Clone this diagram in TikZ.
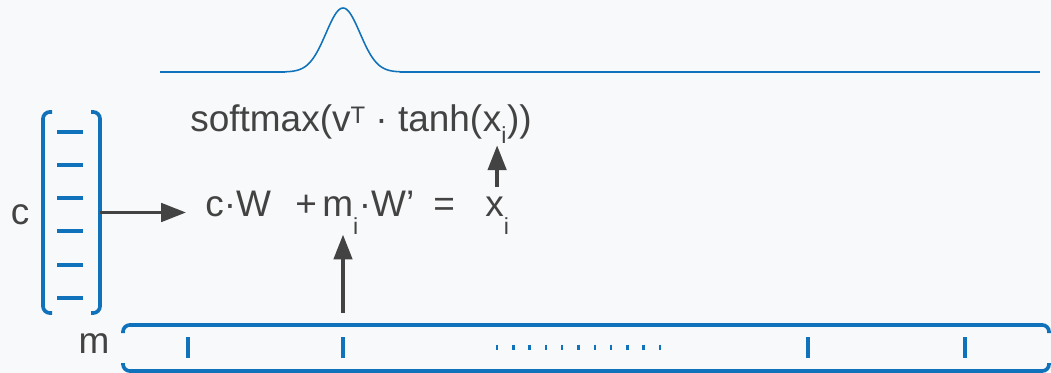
\documentclass[tikz,border=0pt]{standalone}
\usepackage{fontspec}
\setmainfont{Liberation Sans}
\definecolor{vecblue}{RGB}{16,114,186}
\definecolor{inkgray}{RGB}{67,67,67}
\definecolor{bggray}{RGB}{248,249,250}
\usetikzlibrary{positioning, arrows.meta, fit}
\newcommand{\dnsub}[2][0.47em]{\raisebox{-#1}{\fontsize{16.5}{16.5}\selectfont #2}}
\newcommand{\upsup}[1]{\raisebox{0.24em}{\fontsize{17}{17}\selectfont #1}}

\begin{document}
\begin{tikzpicture}[
  x=0.025cm, y=-0.025cm,
  lbl/.style={inner sep=0pt, text=inkgray, font=\fontsize{26.3}{30}\selectfont},
  brk/.style={draw=vecblue, line width=2.6pt, rounded corners=0.17cm},
  mtick/.style={draw=vecblue, line width=2.6pt},
  gline/.style={draw=vecblue, line width=1.6pt},
  arw/.style={-{Triangle[length=0.62cm, width=0.46cm]}, line width=2.5pt, inkgray},
]
\fill[bggray] (0,0) rectangle (1051,373);
\useasboundingbox (0,0) rectangle (1051,373);

% Attention bump
\draw[gline] (160,72) -- (285,72);
\draw[gline, line width=1.1pt] plot[domain=285:400, samples=100]
  (\x, {72-64*exp(-((\x-343)/17)*((\x-343)/17)/2)});
\draw[gline] (400,72) -- (1040,72);

% Context vector c
\node[fit={(43,112) (100,313)}, inner sep=0pt] (cvec) {};
\draw[brk] (52,112) -- (43,112) -- (43,313) -- (52,313);
\draw[brk] (91,112) -- (100,112) -- (100,313) -- (91,313);
\foreach \cy in {132,165,198,231,265,298}
  \draw[mtick, line width=2.8pt] (57,\cy) -- (83,\cy);
\node[lbl, anchor=base] (clbl) at (20,225) {c};

% Memory m
\node[fit={(123,325) (1049,371)}, inner sep=0pt] (mvec) {};
\draw[brk] (123,333) -- (123,325) -- (1049,325) -- (1049,333);
\draw[brk] (123,363) -- (123,371) -- (1049,371) -- (1049,363);
\foreach \tx [count=\k] in {188,343,808,965}
  \draw[mtick] (\tx,337) coordinate (t\k) -- (\tx,358);
\foreach \d in {0,...,10}
  \draw[mtick, line width=1.8pt] (497+16.3*\d,344.5) -- ++(0,5);
\node[lbl, anchor=base] (mlbl) at (94,353) {m};

% Score
\node[lbl, anchor=base west] (sm) at (190,132) {softmax(v\upsup{T} · tanh(};
\node[lbl, base right=0pt of sm] (smx) {x\dnsub[0.3em]{i}};
\node[lbl, base right=0pt of smx] (smend) {))};

% Combination
\node[lbl, anchor=base west] (cw) at (205,217) {c·W};
\node[lbl, anchor=base west] (plus) at (295,217) {+};
\node[lbl, anchor=base west] (mi) at (322,217) {m\dnsub{i}};
\node[lbl, base right=0pt of mi] (ww) {·W’};
\node[lbl, anchor=base west] (eq) at (433,217) {=};
\node[lbl, anchor=base west] (xi) at (485,217) {x\dnsub{i}};

% Arrows
\draw[arw, shorten >=0.475cm] (cvec.east) -- (cvec.east -| cw.west);
\draw[arw, shorten <=0.3cm] (t2 |- mvec.north) -- (t2 |- mi.south);
\draw[arw, shorten <=0.25cm, shorten >=0.05cm] (xi.north) -- (xi.north |- smx.south);
\end{tikzpicture}
\end{document}
